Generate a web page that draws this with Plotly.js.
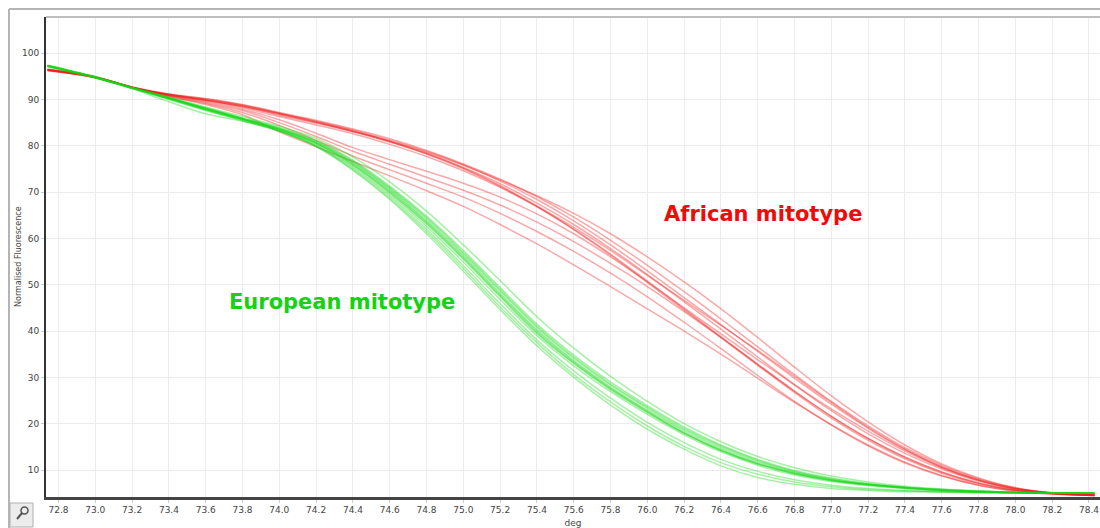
<!DOCTYPE html>
<html>
<head>
<meta charset="utf-8">
<script src="https://cdn.plot.ly/plotly-3.0.1.min.js"></script>
<style>html,body{margin:0;padding:0;background:#fff;}#chart{width:1100px;height:528px;}</style>
</head>
<body>
<div id="chart"></div>
<script>
// Temperature grid (deg)
const temps = [72.74, 73.0, 73.2, 73.4, 73.6, 73.8, 74.0, 74.2, 74.4, 74.6, 74.8, 75.0, 75.2, 75.4, 75.6, 75.8, 76.0, 76.2, 76.4, 76.6, 76.8, 77.0, 77.2, 77.4, 77.6, 77.8, 78.0, 78.2, 78.43];

// African mitotype curves (normalised fluorescence)
const african1 = [96.4, 94.8, 92.6, 91.0, 89.9, 88.5, 86.6, 84.9, 83.0, 80.8, 78.3, 75.3, 71.8, 67.6, 63.0, 57.8, 52.2, 46.3, 40.4, 34.4, 28.4, 22.8, 17.8, 13.6, 10.2, 7.6, 5.9, 5.0, 4.6];
const african2 = [96.3, 94.8, 92.7, 91.2, 90.2, 88.9, 87.2, 85.5, 83.6, 81.5, 79.0, 76.1, 72.8, 69.0, 64.6, 59.6, 54.2, 48.5, 42.6, 36.6, 30.6, 24.8, 19.5, 14.8, 11.0, 8.1, 6.1, 5.1, 4.6];
const african3 = [96.5, 94.9, 92.6, 91.1, 90.0, 88.7, 87.0, 85.2, 83.2, 81.0, 78.6, 75.8, 72.6, 69.2, 65.4, 61.0, 56.0, 50.6, 44.8, 38.6, 32.2, 26.0, 20.4, 15.4, 11.3, 8.3, 6.2, 5.1, 4.6];
const african4 = [96.2, 94.7, 92.6, 90.9, 89.7, 88.2, 86.3, 84.5, 82.6, 80.3, 77.7, 74.6, 71.0, 66.8, 62.0, 56.6, 50.8, 44.8, 38.8, 32.8, 27.0, 21.6, 16.8, 12.8, 9.6, 7.2, 5.7, 4.9, 4.5];
const african5 = [96.5, 94.9, 92.7, 91.1, 90.1, 88.8, 87.0, 85.3, 83.4, 81.2, 78.8, 75.9, 72.4, 68.4, 63.8, 58.6, 53.0, 47.2, 41.4, 35.6, 29.8, 24.2, 19.0, 14.4, 10.7, 7.9, 6.0, 5.0, 4.6];
const african6 = [96.3, 94.8, 92.6, 91.0, 89.8, 88.4, 86.8, 85.0, 83.1, 81.0, 78.4, 75.2, 71.4, 67.0, 62.4, 57.4, 52.0, 46.6, 41.2, 35.8, 30.2, 24.6, 19.2, 14.5, 10.6, 7.8, 5.9, 5.0, 4.6];
const african7 = [96.4, 94.8, 92.6, 91.0, 89.9, 88.6, 86.9, 85.1, 83.2, 80.9, 78.2, 75.0, 71.2, 66.9, 61.9, 56.4, 50.5, 44.5, 38.6, 32.6, 26.7, 21.2, 16.4, 12.4, 9.3, 7.0, 5.6, 4.9, 4.5];
const african8 = [96.3, 94.7, 92.5, 90.6, 88.9, 86.7, 83.0, 79.8, 76.6, 73.5, 70.3, 66.9, 63.0, 58.8, 54.3, 49.6, 44.8, 40.0, 35.0, 29.8, 24.6, 19.8, 15.4, 11.7, 8.8, 6.7, 5.4, 4.8, 4.5];
const african9 = [96.4, 94.8, 92.6, 90.8, 89.3, 87.6, 85.0, 82.0, 78.8, 76.0, 73.2, 70.4, 67.2, 63.5, 59.3, 54.6, 49.6, 44.2, 38.6, 32.8, 27.0, 21.6, 16.8, 12.7, 9.5, 7.2, 5.7, 4.9, 4.5];
const african10 = [96.3, 94.7, 92.5, 90.7, 89.1, 87.2, 84.4, 81.2, 77.8, 74.8, 71.9, 68.9, 65.4, 61.5, 57.2, 52.5, 47.4, 41.9, 36.2, 30.4, 24.8, 19.7, 15.2, 11.5, 8.7, 6.7, 5.5, 4.8, 4.5];
const african11 = [96.4, 94.8, 92.6, 90.9, 89.5, 87.9, 85.6, 82.7, 79.6, 77.0, 74.5, 71.9, 68.9, 65.3, 61.0, 56.0, 50.6, 45.0, 39.4, 33.8, 28.4, 23.2, 18.4, 14.1, 10.5, 7.8, 6.0, 5.0, 4.6];

// European mitotype curves (normalised fluorescence)
const european1 = [97.3, 94.8, 92.5, 90.3, 88.0, 85.8, 83.6, 80.6, 76.1, 70.3, 63.6, 56.0, 47.9, 40.0, 33.4, 27.7, 22.7, 18.0, 14.2, 11.3, 9.2, 7.7, 6.8, 6.1, 5.6, 5.3, 5.1, 5.0, 5.0];
const european2 = [97.2, 94.8, 92.5, 90.2, 87.8, 85.6, 83.3, 80.1, 75.5, 69.5, 62.6, 54.9, 46.8, 39.0, 32.5, 26.9, 22.0, 17.6, 13.9, 11.0, 8.9, 7.5, 6.6, 6.0, 5.5, 5.3, 5.1, 5.0, 5.0];
const european3 = [97.4, 94.9, 92.6, 90.4, 88.2, 86.0, 83.9, 81.1, 76.9, 71.3, 64.8, 57.4, 49.4, 41.5, 34.8, 29.0, 23.9, 19.3, 15.4, 12.3, 9.9, 8.3, 7.1, 6.3, 5.8, 5.4, 5.2, 5.1, 5.0];
const european4 = [97.3, 94.8, 92.5, 90.3, 88.1, 85.9, 83.7, 80.8, 76.5, 70.8, 64.2, 56.7, 48.7, 40.8, 34.1, 28.3, 23.3, 18.7, 14.9, 11.9, 9.6, 8.0, 6.9, 6.2, 5.7, 5.4, 5.2, 5.1, 5.0];
const european5 = [97.2, 94.7, 92.4, 90.2, 87.9, 85.7, 83.4, 80.4, 75.8, 69.9, 63.1, 55.5, 47.4, 39.5, 33.0, 27.3, 22.4, 17.9, 14.2, 11.3, 9.2, 7.8, 6.8, 6.1, 5.6, 5.3, 5.1, 5.0, 5.0];
const european6 = [97.4, 94.9, 92.6, 90.5, 88.4, 86.3, 84.2, 81.6, 77.6, 72.2, 65.9, 58.6, 50.9, 43.1, 36.3, 30.2, 24.8, 20.0, 16.1, 12.9, 10.5, 8.7, 7.4, 6.5, 5.9, 5.5, 5.2, 5.1, 5.0];
const european7 = [97.3, 94.8, 92.5, 90.3, 88.0, 85.8, 83.5, 80.5, 75.9, 70.0, 63.3, 55.7, 47.6, 39.7, 33.1, 27.5, 22.5, 18.0, 14.3, 11.4, 9.3, 7.8, 6.8, 6.1, 5.6, 5.3, 5.1, 5.0, 5.0];
const european8 = [97.2, 94.8, 92.5, 90.2, 87.9, 85.7, 83.5, 80.7, 76.3, 70.5, 63.8, 56.3, 48.2, 40.3, 33.6, 27.9, 22.9, 18.4, 14.6, 11.6, 9.4, 7.9, 6.9, 6.2, 5.7, 5.4, 5.2, 5.1, 5.0];
const european9 = [97.0, 94.6, 92.3, 89.5, 86.9, 85.3, 83.1, 79.8, 74.7, 68.4, 61.0, 52.9, 44.6, 36.8, 30.0, 24.0, 18.8, 14.5, 10.9, 8.4, 6.9, 6.0, 5.6, 5.3, 5.2, 5.1, 5.0, 5.0, 5.0];
const european10 = [97.1, 94.7, 92.4, 90.0, 87.6, 85.4, 83.2, 80.0, 75.2, 69.1, 62.0, 54.1, 45.9, 38.1, 31.4, 25.5, 20.3, 15.9, 12.3, 9.7, 7.9, 6.7, 6.0, 5.6, 5.3, 5.2, 5.1, 5.0, 5.0];
const european11 = [97.2, 94.7, 92.4, 90.1, 87.7, 85.5, 83.2, 79.9, 74.9, 68.7, 61.5, 53.5, 45.2, 37.5, 30.6, 24.7, 19.5, 15.1, 11.6, 9.1, 7.4, 6.4, 5.8, 5.5, 5.3, 5.1, 5.0, 5.0, 5.0];
const european12 = [97.3, 94.8, 92.5, 90.3, 88.1, 85.9, 83.8, 81.0, 76.7, 71.0, 64.5, 57.0, 49.0, 41.1, 34.4, 28.6, 23.6, 19.0, 15.2, 12.1, 9.7, 8.1, 7.0, 6.3, 5.8, 5.4, 5.2, 5.1, 5.0];

const africanSeries = [african1, african2, african3, african4, african5, african6, african7, african8, african9, african10, african11];
const europeanSeries = [european1, european2, european3, european4, european5, european6, european7, european8, european9, european10, european11, european12];

const labels = ["African mitotype", "European mitotype"];
const xTitle = "deg";
const yTitle = "Normalised Fluorescence";

const traces = [];
africanSeries.forEach(function (ys) {
  traces.push({x: temps, y: ys, type: 'scatter', mode: 'lines', hoverinfo: 'skip',
    line: {color: 'rgba(240,30,30,0.38)', width: 1.5, shape: 'spline', smoothing: 1}});
});
europeanSeries.forEach(function (ys) {
  traces.push({x: temps, y: ys, type: 'scatter', mode: 'lines', hoverinfo: 'skip',
    line: {color: 'rgba(20,215,20,0.38)', width: 1.5, shape: 'spline', smoothing: 1}});
});

// pixel helpers for frame decorations (paper coords of a 1054x480 plot at l=46,t=17)
function px(x) { return (x - 46) / 1054; }
function py(y) { return (497 - y) / 480; }

const layout = {
  width: 1100, height: 528,
  margin: {l: 46, r: 0, t: 17, b: 31},
  paper_bgcolor: '#ffffff', plot_bgcolor: '#ffffff',
  showlegend: false,
  font: {family: 'DejaVu Sans, Verdana, sans-serif', color: '#444', size: 9},
  xaxis: {
    range: [72.732, 78.46], dtick: 0.2, tick0: 72.8, tickformat: '.1f',
    showgrid: true, gridcolor: '#ececec', gridwidth: 1,
    showline: true, linecolor: '#444', linewidth: 2.5,
    ticks: 'outside', ticklen: 3, tickcolor: '#ccc',
    zeroline: false, fixedrange: true,
    tickfont: {size: 9, color: '#444'},
    title: {text: xTitle, font: {size: 9, color: '#444'}, standoff: 6}
  },
  yaxis: {
    range: [4.17, 107.8], dtick: 10, tick0: 0,
    showgrid: true, gridcolor: '#ececec', gridwidth: 1,
    showline: true, linecolor: '#333', linewidth: 2,
    ticks: 'outside', ticklen: 3, tickcolor: '#ccc',
    zeroline: false, fixedrange: true,
    tickfont: {size: 9, color: '#444'}
  },
  annotations: [
    {x: 76.63, y: 65.3, xref: 'x', yref: 'y', text: labels[0], showarrow: false,
     font: {family: 'DejaVu Sans, Verdana, sans-serif', size: 21, color: '#f00a0a', weight: 'bold'}},
    {x: 74.34, y: 46.3, xref: 'x', yref: 'y', text: labels[1], showarrow: false,
     font: {family: 'DejaVu Sans, Verdana, sans-serif', size: 21, color: '#14d214', weight: 'bold'}},
    {x: px(18), y: py(257), xref: 'paper', yref: 'paper', text: yTitle, showarrow: false, textangle: -90,
     xanchor: 'center', yanchor: 'middle', font: {size: 8, color: '#444'}}
  ],
  shapes: [
    // plot top border (grey)
    {type: 'line', xref: 'paper', yref: 'paper', x0: 0, x1: 1, y0: 1, y1: 1, line: {color: '#a8a8a8', width: 1.5}},
    // outer frame
    {type: 'line', xref: 'paper', yref: 'paper', x0: px(9), x1: 1, y0: py(9), y1: py(9), line: {color: '#b4b4b4', width: 2}},
    {type: 'line', xref: 'paper', yref: 'paper', x0: px(9), x1: px(9), y0: py(9), y1: py(528), line: {color: '#b4b4b4', width: 2}},
    // small tool button
    {type: 'rect', xref: 'paper', yref: 'paper', x0: px(10), x1: px(33), y0: py(503), y1: py(527), fillcolor: '#ececec', line: {color: '#b0b0b0', width: 1}},
    {type: 'circle', xref: 'paper', yref: 'paper', x0: px(21), x1: px(28), y0: py(507), y1: py(514), line: {color: '#555', width: 1.5}},
    {type: 'line', xref: 'paper', yref: 'paper', x0: px(22), x1: px(17), y0: py(513), y1: py(519), line: {color: '#555', width: 2}}
  ]
};

Plotly.newPlot('chart', traces, layout, {staticPlot: true, displayModeBar: false});
</script>
</body>
</html>
